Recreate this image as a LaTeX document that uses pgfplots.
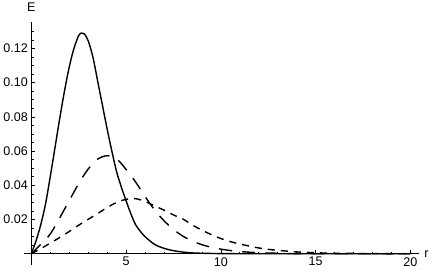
\documentclass[border=0pt]{standalone}
\usepackage{pgfplots}
\pgfplotsset{compat=1.18}
\usepackage{fontspec}
\setmainfont{Liberation Sans}

% three radial curves
\pgfplotstableread{
r      E
0      0
0.25   0.0075
0.5    0.017
0.75   0.029
1.0    0.045
1.25   0.062
1.5    0.079
1.75   0.095
2.0    0.109
2.25   0.120
2.5    0.1275
2.65   0.129
2.8    0.1285
3.0    0.1245
3.25   0.115
3.5    0.101
3.75   0.087
4.0    0.073
4.25   0.060
4.5    0.048
4.75   0.039
5.0    0.031
5.25   0.0235
5.5    0.017
5.75   0.0132
6.0    0.0100
6.5    0.0055
7.0    0.0032
7.5    0.0018
8.0    0.0010
8.5    0.0005
9.0    0.0003
10     0.0001
12     0
20     0
}\solid

\pgfplotstableread{
r      E
0      0
0.5    0.0055
1.0    0.0115
1.5    0.021
2.0    0.031
2.5    0.041
3.0    0.0495
3.5    0.0553
4.0    0.0573
4.5    0.0555
5.0    0.0493
5.5    0.042
6.0    0.0335
6.5    0.0257
7.0    0.0193
7.5    0.0142
8.0    0.0103
8.5    0.0074
9.0    0.0053
9.5    0.0038
10     0.0027
10.5   0.0019
11     0.0013
12     0.0006
13     0.0003
14     0.0001
16     0
20     0
}\dashed

\pgfplotstableread{
r      E
0      0
0.5    0.003
1.0    0.0062
1.5    0.0095
2.0    0.013
2.5    0.0167
3.0    0.0201
3.5    0.0235
4.0    0.027
4.5    0.030
5.0    0.0318
5.5    0.0322
6.0    0.0306
6.5    0.028
7.0    0.0255
7.5    0.0227
8.0    0.0203
8.5    0.0168
9.0    0.0138
9.5    0.0112
10     0.0089
10.5   0.0071
11     0.0057
11.5   0.0045
12     0.0034
12.5   0.0026
13     0.0020
14     0.0011
15     0.0006
16     0.0003
18     0.0001
20     0
}\dotted

\begin{document}
\begin{tikzpicture}
\begin{axis}[
    scale only axis,
    width=392bp, height=241.7bp,
    axis lines=middle,
    xmin=-0.37, xmax=20.45,
    ymin=-0.0065, ymax=0.1357,
    xtick={5,10,15,20},
    ytick={0.02,0.04,0.06,0.08,0.10,0.12},
    minor xtick={1,2,3,4,6,7,8,9,11,12,13,14,16,17,18,19},
    minor ytick={0.005,0.01,0.015,0.025,0.03,0.035,0.045,0.05,0.055,0.065,0.07,0.075,0.085,0.09,0.095,0.105,0.11,0.115,0.125,0.13},
    tick align=inside,
    major tick length=4bp, minor tick length=2.2bp,
    every tick/.style={black, line width=0.6pt},
    axis line style={black, line width=0.6pt, -},
    scaled y ticks=false,
    yticklabel style={/pgf/number format/fixed, /pgf/number format/fixed zerofill, /pgf/number format/precision=2},
    /pgf/number format/assume math mode=true,
    tick label style={font=\fontsize{12.5}{14}\selectfont},
    label style={font=\fontsize{12.5}{14}\selectfont},
    xlabel={r}, ylabel={E},
    xlabel style={anchor=west, xshift=2bp},
    ylabel style={anchor=south, yshift=6bp},
]
\addplot[black, line width=1.4pt, smooth] table {\solid};
\addplot[black, line width=1.4pt, smooth, dash pattern=on 13bp off 10bp] table {\dashed};
\addplot[black, line width=1.4pt, smooth, dash pattern=on 7bp off 6bp] table {\dotted};
\end{axis}
\end{tikzpicture}
\end{document}
